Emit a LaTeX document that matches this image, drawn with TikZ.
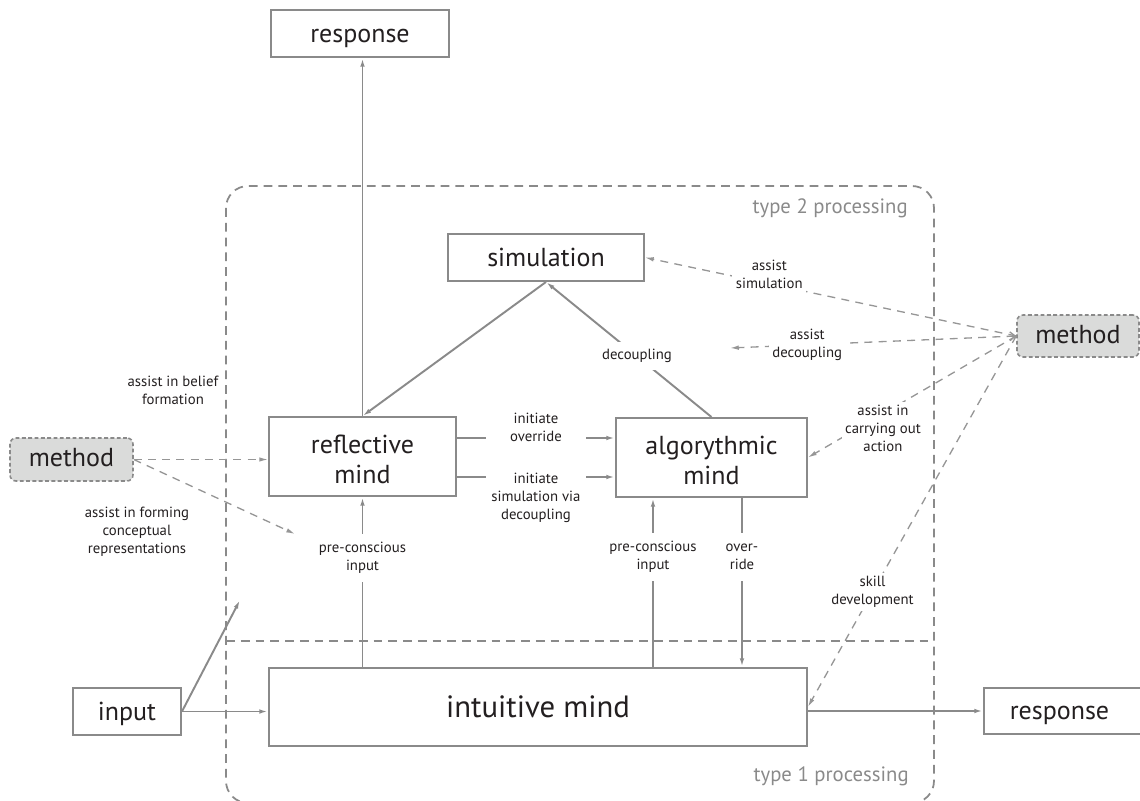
\documentclass[tikz,border=0pt]{standalone}
\usepackage{fontspec}
\setmainfont{PT Sans}
\usetikzlibrary{arrows.meta}

\definecolor{linegray}{RGB}{138,138,138}
\definecolor{dashgray}{RGB}{150,150,150}
\definecolor{methodgray}{RGB}{218,219,218}
\definecolor{inkblack}{RGB}{35,31,32}

\tikzset{
  box/.style={draw=linegray, line width=1.1pt, fill=white, text=inkblack, inner sep=0pt,
    font=\fontsize{14.8pt}{17pt}\selectfont, align=center, text height=9.7pt, text depth=0pt},
  twobox/.style={box, text height=30.2pt},
  methodbox/.style={box, fill=methodgray, dash pattern=on 2.2pt off 1.4pt, line width=0.9pt, rounded corners=0.12cm, text height=8pt},
  lbl/.style={text=inkblack, font=\fontsize{8.4pt}{10.2pt}\selectfont, align=center, inner sep=2pt},
  gap/.style={lbl, fill=white},
  typelbl/.style={text=linegray, font=\fontsize{11.8pt}{14pt}\selectfont, inner sep=0pt},
  con/.style={draw=linegray, line width=1.1pt},
  conarrow/.style={con, -{Latex[length=5pt,width=2.6pt]}},
  dcon/.style={draw=dashgray, line width=0.75pt, dash pattern=on 4.5pt off 3.6pt, -{Latex[length=5pt,width=2.6pt]}},
  zone/.style={draw=linegray, line width=1pt, dash pattern=on 5pt off 3.4pt},
}

\begin{document}
\begin{tikzpicture}[x=0.02cm, y=-0.02cm]
\useasboundingbox (0,0) rectangle (1140,801);
\draw[zone, rounded corners=0.44cm] (226,186) rectangle (934,803);
\draw[zone] (226,641) -- (934,641);
\node[typelbl, anchor=base east] (t2) at (908,213) {type 2 processing};
\node[typelbl, anchor=base east] (t1) at (909,781) {type 1 processing};

\node[box, minimum width=3.56cm, minimum height=0.94cm] (resptop) at (360,33.5) {response};
\node[box, minimum width=3.92cm, minimum height=0.94cm] (sim) at (546,257.5) {simulation};
\node[twobox, minimum width=3.74cm, minimum height=1.58cm] (refl) at (362.5,456.5) {reflective\\mind};
\node[twobox, minimum width=3.82cm, minimum height=1.58cm] (algo) at (711.5,457.5) {algorythmic\\mind};
\node[box, minimum width=10.76cm, minimum height=1.56cm, text height=11.4pt, font=\fontsize{17.5pt}{21pt}\selectfont] (intu) at (538,707) {intuitive mind};
\node[box, minimum width=2.16cm, minimum height=0.94cm] (input) at (127,711.5) {input};
\node[box, minimum width=3.32cm, minimum height=0.92cm] (respbot) at (1067,711) {response\hspace*{0.3cm}};
\node[methodbox, minimum width=2.46cm, minimum height=0.86cm] (methL) at (71.5,459.5) {method};
\node[methodbox, minimum width=2.44cm, minimum height=0.84cm] (methR) at (1078,336) {method};

\node[lbl] (beliefL) at (173,390) {assist in belief\\formation};
\node[lbl] (formL) at (137,532) {assist in forming\\conceptual\\representations};

\coordinate (inup) at (240,600);
\coordinate (preL) at (295,534);
\coordinate (dcend) at (730,348);
\coordinate (xa) at (653,0);
\coordinate (xo) at (742,0);
\coordinate (yo) at (0,438);
\coordinate (ys) at (0,477);

\draw[conarrow] (refl.north) -- (refl.north |- resptop.south);
\draw[conarrow] (sim.south) -- (refl.north);
\draw[conarrow] (algo.north) -- node[gap, pos=0.45, inner sep=4pt] {decoupling} (sim.south);
\draw[conarrow] (refl.east |- yo) -- node[gap, minimum width=2cm, yshift=0.22cm] {initiate\\override} (algo.west |- yo);
\draw[conarrow] (refl.east |- ys) -- node[gap, minimum width=2cm, yshift=-0.42cm] {initiate\\simulation via\\decoupling} (algo.west |- ys);
\draw[conarrow] (refl.south |- intu.north) -- node[gap, pos=0.64, minimum height=0.96cm] {pre-conscious\\input} (refl.south);
\draw[conarrow] (xa |- intu.north) -- node[gap, pos=0.65, minimum height=0.96cm] {pre-conscious\\input} (xa |- algo.south);
\draw[conarrow] (xo |- algo.south) -- node[gap, pos=0.35, minimum height=0.96cm] {over-\\ride} (xo |- intu.north);
\draw[conarrow] (input.east) -- (intu.west |- input.east);
\draw[conarrow] (input.east) -- (inup);
\draw[conarrow] (intu.east |- respbot.west) -- (respbot.west);

\draw[dcon] (methL.east) -- (refl.west |- methL.east);
\draw[dcon] (methL.east) -- (preL);
\draw[dcon] (methR.west) -- node[gap, pos=0.665, yshift=0.18cm] {assist\\simulation} (sim.east);
\draw[dcon, {Straight Barb[length=3pt,width=5pt]}-{Latex[length=5pt,width=2.6pt]}] (methR.west) -- node[gap, pos=0.73] {assist\\decoupling} (dcend);
\draw[dcon] (methR.west) -- node[gap, pos=0.64, yshift=-0.3cm] {assist in\\carrying out\\action} (algo.east);
\draw[dcon] (methR.west) -- node[gap, pos=0.69] {skill\\development} (intu.east);
\end{tikzpicture}
\end{document}
